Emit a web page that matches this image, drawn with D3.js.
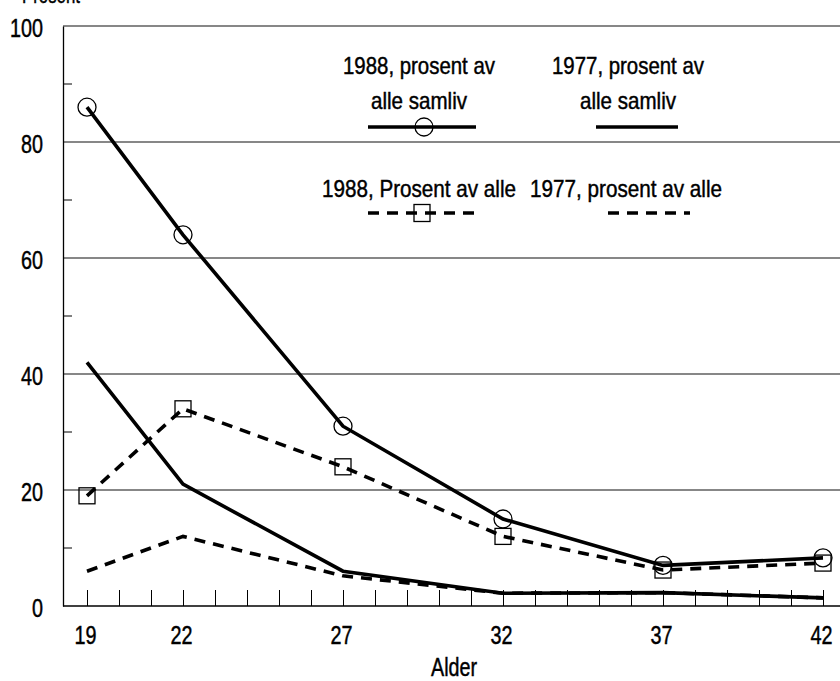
<!DOCTYPE html>
<html>
<head>
<meta charset="utf-8">
<style>
  html, body { margin: 0; padding: 0; background: #fff; }
  svg { display: block; }
  text { font-family: "Liberation Sans", Arial, sans-serif; fill: #000; stroke: #000; stroke-width: 0.45px; }
</style>
</head>
<body>
<div id="container"></div>
<script src="https://cdn.jsdelivr.net/npm/d3@7/dist/d3.min.js"></script>
<script>

// Chart size and margins
const width = 840;
const height = 681;
const marginTop = 26;
const marginRight = 0;
const marginBottom = 75;
const marginLeft = 63;

/*** DATA ***/

const ages = [19, 22, 27, 32, 37, 42];
const samliv1988 = [86, 64, 31, 15, 7, 8.3];
const samliv1977 = [42, 21, 6, 2.2, 2.3, 1.4];
const alle1988 = [19, 34, 24, 12, 6.2, 7.4];
const alle1977 = [6, 12, 5.2, 2.2, 2.3, 1.4];

const yTicks = [0, 20, 40, 60, 80, 100];
const yMinorTicks = [10, 30, 50, 70, 90];
const xTicks = [19, 22, 27, 32, 37, 42];

const legendLabels = [
  ["1988, prosent av", "alle samliv"],
  ["1977, prosent av", "alle samliv"],
  ["1988, Prosent av alle"],
  ["1977, prosent av alle"]
];

/*** SCALES ***/

const x = d3.scaleLinear()
    .domain([19, 42])
    .range([87, 823]);

const y = d3.scaleLinear()
    .domain([0, 100])
    .range([height - marginBottom, marginTop]);

const line = d3.line()
    .x(d => x(d.age))
    .y(d => y(d.v));

const toPoints = vals => ages.map((a, i) => ({age: a, v: vals[i]}));

const svg = d3.create("svg")
    .attr("width", width)
    .attr("height", height);

// the scan's font is a narrow Helvetica, so squeeze text to the measured widths
function squeeze(sel, w) {
    sel.attr("textLength", w).attr("lengthAdjust", "spacingAndGlyphs");
}

/*** AXES AND GRID ***/

// label above the axis, cut off by the top edge in the original
svg.append("text")
    .attr("x", 22)
    .attr("y", 3)
    .attr("font-size", 23)
    .call(squeeze, 58)
    .text("Prosent");

// gridlines (full width)
svg.append("g")
    .selectAll("line")
    .data(yTicks.filter(d => d > 0))
    .join("line")
    .attr("x1", marginLeft)
    .attr("x2", width - marginRight)
    .attr("y1", d => y(d))
    .attr("y2", d => y(d))
    .attr("stroke", "#111")
    .attr("stroke-width", 1.1);

// y axis
const yAxis = svg.append("g")
    .attr("transform", `translate(${marginLeft},0)`)
    .call(d3.axisLeft(y).tickValues(yTicks).tickSize(0).tickPadding(20));
yAxis.select(".domain").attr("stroke", "#000").attr("stroke-width", 1.3);
yAxis.selectAll("text")
    .attr("font-family", "\"Liberation Sans\", Arial, sans-serif")
    .attr("font-size", 25)
    .attr("dy", "0.42em")
    .each(function(d) {
        d3.select(this).call(squeeze, String(d).length * 11);
    });

// minor y ticks pointing inward
svg.append("g")
    .selectAll("line")
    .data(yMinorTicks)
    .join("line")
    .attr("x1", marginLeft)
    .attr("x2", marginLeft + 9)
    .attr("y1", d => y(d))
    .attr("y2", d => y(d))
    .attr("stroke", "#000")
    .attr("stroke-width", 1);

// x axis line
svg.append("line")
    .attr("x1", marginLeft)
    .attr("x2", width)
    .attr("y1", y(0))
    .attr("y2", y(0))
    .attr("stroke", "#000")
    .attr("stroke-width", 1.5);

// x ticks every year, pointing up
const xAxis = svg.append("g")
    .attr("transform", `translate(0,${y(0)})`)
    .call(d3.axisTop(x).ticks(23).tickSize(16).tickFormat(""));
xAxis.select(".domain").remove();
xAxis.selectAll("line").attr("stroke", "#000").attr("stroke-width", 1);

// x tick labels
const xLabels = svg.append("g")
    .attr("transform", `translate(-2,${y(0)})`)
    .call(d3.axisBottom(x).tickValues(xTicks).tickSize(0).tickPadding(0));
xLabels.select(".domain").remove();
xLabels.selectAll("text")
    .attr("font-family", "\"Liberation Sans\", Arial, sans-serif")
    .attr("font-size", 25)
    .attr("y", 38)
    .attr("dy", 0)
    .call(squeeze, 22);

// x axis label
svg.append("text")
    .attr("x", 454)
    .attr("y", 676)
    .attr("text-anchor", "middle")
    .attr("font-size", 25)
    .call(squeeze, 46)
    .text("Alder");

/*** LINES ***/

const dash = "11,8";

svg.append("path")
    .attr("fill", "none").attr("stroke", "#000").attr("stroke-width", 3.6)
    .attr("d", line(toPoints(samliv1977)));

svg.append("path")
    .attr("fill", "none").attr("stroke", "#000").attr("stroke-width", 3.6)
    .attr("stroke-dasharray", dash)
    .attr("d", line(toPoints(alle1977)));

svg.append("path")
    .attr("fill", "none").attr("stroke", "#000").attr("stroke-width", 3.6)
    .attr("stroke-dasharray", dash)
    .attr("d", line(toPoints(alle1988)));

svg.append("path")
    .attr("fill", "none").attr("stroke", "#000").attr("stroke-width", 3.6)
    .attr("d", line(toPoints(samliv1988)));

// markers
svg.append("g")
    .selectAll("circle")
    .data(toPoints(samliv1988))
    .join("circle")
    .attr("cx", d => x(d.age))
    .attr("cy", d => y(d.v))
    .attr("r", 9)
    .attr("fill", "none")
    .attr("stroke", "#000")
    .attr("stroke-width", 1.3);

svg.append("g")
    .selectAll("rect")
    .data(toPoints(alle1988))
    .join("rect")
    .attr("x", d => x(d.age) - 8)
    .attr("y", d => y(d.v) - 8)
    .attr("width", 16)
    .attr("height", 16)
    .attr("fill", "none")
    .attr("stroke", "#000")
    .attr("stroke-width", 1.3);

/*** LEGEND ***/

function legendText(cx, y0, lines, widths) {
    lines.forEach((t, i) => {
        svg.append("text")
            .attr("x", cx)
            .attr("y", y0 + i * 35)
            .attr("text-anchor", "middle")
            .attr("font-size", 24)
            .call(squeeze, widths[i])
            .text(t);
    });
}

legendText(419, 74, legendLabels[0], [152, 96]);
legendText(628, 74, legendLabels[1], [152, 96]);
legendText(419, 197, legendLabels[2], [194]);
legendText(626, 197, legendLabels[3], [192]);

svg.append("line")
    .attr("x1", 368).attr("x2", 476).attr("y1", 127).attr("y2", 127)
    .attr("stroke", "#000").attr("stroke-width", 3.6);
svg.append("circle")
    .attr("cx", 424).attr("cy", 127).attr("r", 9)
    .attr("fill", "none").attr("stroke", "#000").attr("stroke-width", 1.3);

svg.append("line")
    .attr("x1", 596).attr("x2", 678).attr("y1", 127).attr("y2", 127)
    .attr("stroke", "#000").attr("stroke-width", 3.6);

svg.append("line")
    .attr("x1", 368).attr("x2", 476).attr("y1", 213).attr("y2", 213)
    .attr("stroke", "#000").attr("stroke-width", 3.6)
    .attr("stroke-dasharray", dash);
svg.append("rect")
    .attr("x", 422 - 8).attr("y", 213 - 8.5).attr("width", 16).attr("height", 17)
    .attr("fill", "none").attr("stroke", "#000").attr("stroke-width", 1.3);

svg.append("line")
    .attr("x1", 608).attr("x2", 690).attr("y1", 213).attr("y2", 213)
    .attr("stroke", "#000").attr("stroke-width", 3.6)
    .attr("stroke-dasharray", dash);

document.getElementById("container").append(svg.node());
</script>
</body>
</html>
